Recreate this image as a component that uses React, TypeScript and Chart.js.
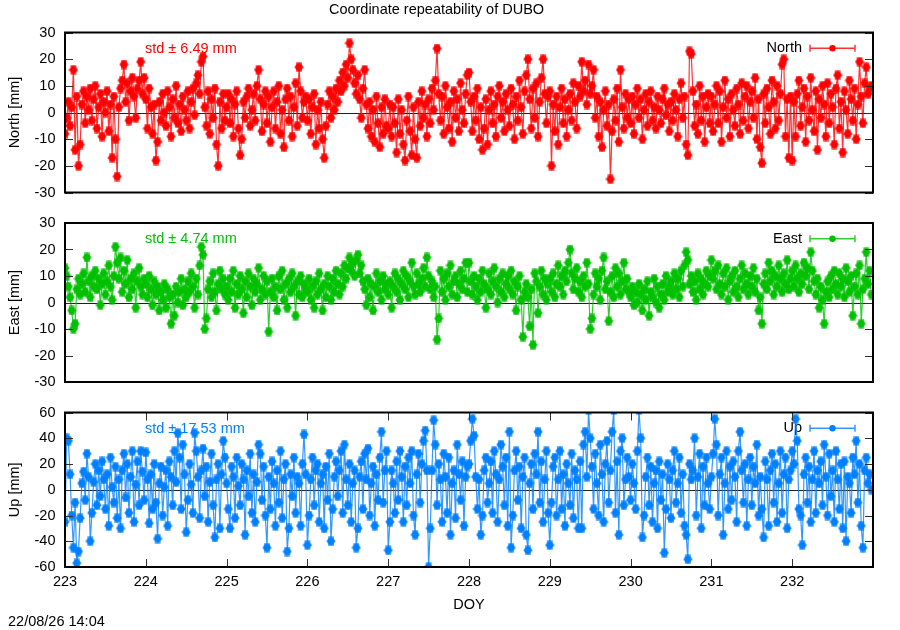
import React, { useEffect, useRef } from "react";
import { Chart, registerables } from "chart.js";

Chart.register(...registerables);

// ---------------- data ----------------
const START_DOY = 223;
const SAMPLES_PER_DAY = 48; // 30-minute solutions
const X_TICKS = [223, 224, 225, 226, 227, 228, 229, 230, 231, 232];
const NE_TICKS = [-30, -20, -10, 0, 10, 20, 30];
const UP_TICKS = [-60, -40, -20, 0, 20, 40, 60];

const TITLE = "Coordinate repeatability of DUBO";
const TIMESTAMP = "22/08/26 14:04";
const X_LABEL = "DOY";

const NORTH: number[] = [
  -8, -2, 4, -5, 2, 16, -14, 6, -20, -12, 3, 8, -4, 6, 1, 9, -3, 5, 10, -6, 2, 7, -9, 4,
  0, 8, -7, 3, -17, 6, -10, -24, 2, 9, 12, 18, 4, 11, -3, 8, 13, 6, -2, 9, 12, 19, 7, 13,
  5, -6, 9, 2, -8, 3, -18, -11, 4, -3, 7, 0, -5, 8, 2, -9, 5, -2, 10, -4, 3, -7, 6, 1,
  -3, 8, -6, 4, 9, -1, 11, 14, 7, 19, 21, 2, -5, 8, -8, 5, -2, 9, -12, -20, 4, -6, 7, -3,
  2, 7, -4, 5, -9, 3, 8, -6, -16, -10, 4, -2, 6, 9, -5, 1, 7, -3, 10, 16, 5, -7, 3, 8,
  -4, 6, -11, 2, 8, -6, 4, 10, -8, 1, -13, 5, 9, -3, 6, -9, 2, 11, -5, 17, 8, -2, 4, 6,
  -3, 5, -8, 2, 7, -12, 1, -6, 4, -10, -17, -5, 3, 8, -2, 6, 1, 9, 4, 12, 8, 15, 10, 18,
  13, 26, 20, 16, 11, 7, 14, 5, -2, 9, 16, 3, -6, 4, -9, 1, -11, 6, -4, -13, 2, -8, 5, -5,
  -6, 3, -9, 2, -4, -15, 5, -8, 1, -12, -18, -3, 6, -7, -16, 2, -10, -17, 4, -5, 8, -2, 3, -9,
  5, -4, 9, 1, 12, 24, 7, -3, 6, -8, 10, 2, -6, 4, -11, 8, -2, 5, -7, 11, 1, -4, 7, 14,
  15, 4, -7, 6, -3, 9, -10, 2, -14, -6, 5, -12, 1, 8, -4, 3, -9, 6, 10, -2, 4, -7, 7, 1,
  -5, 9, 3, -10, 6, -3, 12, 2, -8, 8, 14, 20, 5, -6, 9, -2, 11, -9, 4, 13, 20, 7, -4, 6,
  8, -20, 3, -7, 6, -12, 2, 9, -4, 5, -9, 1, 7, -3, 11, 4, -6, 10, 6, 19, 8, 12, 3, 18,
  7, 10, 16, -2, 6, -9, 4, -13, 1, 8, -5, 3, -25, -7, 5, -3, 9, -11, 16, 2, -6, 7, -2, 5,
  -4, 6, -8, 3, 9, -2, 5, -10, 1, 7, -5, 4, 8, -3, 2, -6, 6, 1, -4, 5, 9, -1, 3, -7,
  4, -3, 7, 1, -9, 5, 11, -2, 6, -12, -16, 23, 22, 8, -5, 3, -8, 10, -3, 6, -11, 2, 7, -4,
  6, -7, 3, 10, -4, 8, -11, 2, 12, -2, 5, -9, 7, 1, -5, 9, 3, -8, 11, -3, 6, 10, -6, 4,
  8, -2, 13, -10, 5, -13, -19, 7, -4, 9, 2, -8, 12, 4, -6, 10, -3, 7, 18, 20, -9, 5, -17, 6,
  -18, 4, -9, 7, 12, -5, 2, 9, -11, 6, -3, 13, 1, -7, 8, -14, 5, -2, 10, 3, -9, 11, -4, 7,
  2, -12, 9, 14, -6, 4, -15, 8, 1, -8, 12, 5, -3, 9, -10, 3, 19, 6, -4, 11, 17, 7, 9, 10,
];

const EAST: number[] = [
  13, 10, 6, 2, -3, -10, -8, 5, 9, 3, 7, 11, 4, 17, 8, 2, 10, 6, 12, 5, 9, -1, 7, 11,
  3, 8, 14, 6, 1, 10, 21, 15, 9, 17, 4, 12, 7, 16, 2, 9, 5, 11, -2, 8, 13, 6, 3, 9,
  7, 2, 10, 5, -1, 8, 3, 6, -3, 4, 1, 7, -2, 5, 2, -8, 3, -5, 6, 0, 4, 9, -1, 5,
  2, 8, 4, 11, 6, -2, 9, 3, 14, 21, 18, -10, -6, 5, 8, 2, 11, 4, -3, 7, 12, 5, 9, 3,
  6, 1, 9, 4, 12, -2, 7, 3, 10, 5, -4, 8, 2, 11, 6, -1, 9, 4, 7, 13, 1, 5, 10, 3,
  8, -11, 4, 9, 2, 6, -3, 10, 5, 12, 1, 7, -2, 9, 4, 11, 6, -5, 8, 3, 10, 2, 7, 5,
  4, 9, 1, 6, -2, 8, 3, 11, 5, -3, 7, 2, 10, 6, 1, 9, 4, 12, 7, 3, 11, 6, 14, 9,
  13, 17, 12, 15, 10, 16, 18, 11, 14, 8, 5, -1, 9, 2, 7, -3, 6, 11, 4, 8, 1, 10, 5, 7,
  3, 8, -2, 6, 11, 4, 9, 1, 7, 12, 5, 10, 2, 8, 15, 6, 3, 11, 7, 4, 9, 13, 6, 17,
  10, 5, 8, 2, 6, -14, -6, 12, 4, 9, 1, 11, 6, 14, 3, 8, 10, 2, 7, 12, 5, 9, 15, 4,
  15, 8, 3, 10, 6, 1, 9, 4, 12, 7, -2, 5, 11, 3, 8, 13, 6, 0, 9, 4, 11, 2, 7, 10,
  5, 12, 3, 8, -3, 6, 10, 1, -13, 4, 7, 2, -9, 5, -16, 11, 8, -4, 6, 12, 3, 9, 1, 7,
  9, 4, 11, 2, 7, 14, 6, 10, 3, 12, 8, 15, 20, 11, 5, 9, 13, 4, 8, 2, 10, 6, 15, 7,
  -10, -6, 3, 11, 6, 9, 1, 12, 17, 5, 8, -7, 4, 10, 2, 13, 6, 11, 3, 8, 15, 5, 9, 4,
  2, 6, -1, 4, 0, 7, 3, -3, 5, 1, 8, -5, 4, 2, 9, 0, 6, -2, 3, 7, 1, 10, 4, 6,
  8, 3, 11, 5, 9, 2, 12, 6, 14, 19, 16, 7, 10, 4, 8, 1, 11, 5, 9, 3, 7, 12, 6, 10,
  16, 9, 12, 5, 14, 7, 3, 11, 6, 13, 1, 8, 10, 4, 12, 6, 2, 9, 14, 5, 11, 7, 3, 10,
  6, 13, 4, 9, -3, 2, -8, 7, 11, 5, 15, 8, 12, 3, 10, 6, 14, 9, 4, 11, 7, 16, 5, 9,
  12, 6, 14, 9, 4, 11, 7, 15, 10, 13, 5, 19, 12, 8, 3, 9, -2, 6, 1, -8, 4, 8, 2, 10,
  5, 12, 7, 3, 11, 6, 9, 2, 13, 8, 4, 10, -5, 6, 11, 3, 14, -8, 5, 9, 19, 7, 12, 3,
];

const UP: number[] = [
  -25, 40, 38, 12, -20, -45, -10, -57, -48, -22, 5, 14, -8, 28, 10, -40, -18, 6, 20, -12, 15, -5, 22, 8,
  -15, 12, -28, 25, 2, -10, 18, -22, 8, -30, 15, 28, -6, 20, -18, 10, 30, -25, 4, 22, -12, 30, 14, -8,
  29, 8, -26, 12, -15, 20, -10, -38, 5, 18, -20, 2, 15, -28, 22, 10, -12, 30, 6, 44, 25, -15, 35, 12,
  -33, -8, 20, 4, -18, 44, 30, 10, -22, 15, 32, -5, 18, -25, 6, 28, -12, -37, 8, 20, -30, 12, 38, 25,
  5, -15, -30, 18, 10, -22, 25, 3, -12, 20, 8, -35, 15, -5, 28, -18, 12, -25, 6, 35, 28, -8, 18, -20,
  -45, 10, -15, 22, 5, -28, 15, -10, 30, -22, 8, 20, -48, -30, 12, -5, 25, -18, 10, 5, -28, 20, 43, 12,
  -43, -20, 8, 25, -12, 15, 20, -25, 5, 12, -30, 18, -8, 28, -40, -15, 10, 22, -5, 15, 30, -18, 35, 8,
  -12, 20, -25, 5, 15, -45, -30, 10, 22, -15, 28, 8, 32, -20, 5, 18, -28, 12, -8, 25, 45, -10, 15, 30,
  -47, -25, 15, 5, -18, 22, -8, 30, 10, -25, 18, -12, 25, 5, 30, -20, -35, 12, 28, -10, 20, 38, 46, 15,
  -60, -30, 15, 54, 35, -12, 20, 8, -25, 28, 10, -18, 25, -35, 5, 15, -22, 35, 12, -8, 22, -28, 10, 18,
  20, 38, 55, 42, 10, -15, 8, -35, -20, 15, 25, -10, 5, 22, -18, 30, 12, -25, 8, 35, 18, -12, 25, -28,
  45, -45, -20, 15, 30, -8, 18, -30, 10, 25, -35, -47, 5, 20, -15, 28, 12, 45, -10, 22, -25, 8, 30, -18,
  -43, -10, 18, 25, -20, 8, 30, -15, 12, -28, 20, 5, -12, 28, -22, 15, 8, -30, 22, -30, 35, 45, 10, 62,
  40, 18, -15, 28, 5, -20, 35, 12, -25, 20, 38, -10, 15, 45, 62, -18, 22, -35, 30, 40, -12, 8, 25, 10,
  -8, 20, 5, -15, 30, 62, 40, -37, -20, 10, 25, -12, 18, -25, 5, 15, -30, 22, -8, 12, -49, -15, 20, 8,
  -22, 15, 30, -10, 5, 25, -18, 12, -28, -35, -54, 20, 8, 15, 40, -20, 10, 28, -30, 18, -12, 25, 5, -15,
  10, 28, 55, 35, -20, 12, 25, -35, 5, 30, -15, 18, -8, 22, 10, -25, 30, 45, 15, -10, 20, -28, 8, 25,
  -12, 18, 5, 35, -20, 10, -15, -37, 22, 8, -28, 15, 28, -10, 20, -25, 5, 30, -18, 12, 25, -30, 8, 15,
  30, 20, 55, 38, -15, -20, -43, 12, 25, -10, 18, -25, 8, 30, -18, 15, 5, 22, -12, 35, 10, -20, 28, -5,
  15, -25, 30, 8, -15, 20, -30, 22, -40, 10, 5, -18, 25, 12, 38, -10, 20, -28, -45, 15, 25, 5, 12, 0,
];

const SERIES_NAMES = ["North", "East", "Up"];
const Y_LABELS = ["North [mm]", "East [mm]", "Up [mm]"];
const STD_VALUES = ["6.49", "4.74", "17.53"];

// ---------------- styling ----------------
const FONT_FAMILY = "'Liberation Sans', Arial, Helvetica, sans-serif";
const FONT_SIZE = 14.5;

type PanelCfg = {
  name: string;
  yLabel: string;
  std: string;
  values: number[];
  ticks: number[];
  color: string;
  lineColor: string;
  top: number;
  height: number;
  padTop: number;
  padBottom: number;
  showTitle: boolean;
  showX: boolean;
};

const PANELS: PanelCfg[] = [
  {
    name: SERIES_NAMES[0], yLabel: Y_LABELS[0], std: STD_VALUES[0], values: NORTH, ticks: NE_TICKS,
    color: "#ff0000", lineColor: "rgba(255,0,0,0.8)",
    top: 0, height: 200, padTop: 0, padBottom: 7.5, showTitle: true, showX: false,
  },
  {
    name: SERIES_NAMES[1], yLabel: Y_LABELS[1], std: STD_VALUES[1], values: EAST, ticks: NE_TICKS,
    color: "#00c000", lineColor: "rgba(0,192,0,0.8)",
    top: 200, height: 200, padTop: 23, padBottom: 18, showTitle: false, showX: false,
  },
  {
    name: SERIES_NAMES[2], yLabel: Y_LABELS[2], std: STD_VALUES[2], values: UP, ticks: UP_TICKS,
    color: "#0080ff", lineColor: "rgba(0,128,255,0.8)",
    top: 400, height: 230, padTop: 12.5, padBottom: 16.3, showTitle: false, showX: true,
  },
];

function makeMarker(color: string): HTMLCanvasElement {
  const c = document.createElement("canvas");
  c.width = 10;
  c.height = 10;
  const g = c.getContext("2d")!;
  g.fillStyle = color;
  g.beginPath();
  g.arc(5, 5, 3.7, 0, Math.PI * 2);
  g.fill();
  g.fillRect(2, 0.5, 6, 1.2);
  g.fillRect(2, 8.3, 6, 1.2);
  g.fillRect(4.4, 0.5, 1.2, 9);
  g.fillRect(0.5, 4.4, 9, 1.2);
  return c;
}

function font(size = FONT_SIZE) {
  return `${size}px ${FONT_FAMILY}`;
}

function Panel({ cfg }: { cfg: PanelCfg }) {
  const ref = useRef<HTMLCanvasElement | null>(null);

  useEffect(() => {
    if (!ref.current) return;
    const points = cfg.values.map((v, i) => ({ x: START_DOY + i / SAMPLES_PER_DAY, y: v }));
    const marker = makeMarker(cfg.color);

    const decorBelow = {
      id: "decorBelow",
      beforeDatasetsDraw(chart: any) {
        const { ctx, chartArea, scales } = chart;
        const { left, right, top } = chartArea;
        ctx.save();
        const y0 = scales.y.getPixelForValue(0);
        ctx.strokeStyle = "#202020";
        ctx.lineWidth = 1;
        ctx.beginPath();
        ctx.moveTo(left, Math.round(y0) + 0.5);
        ctx.lineTo(right, Math.round(y0) + 0.5);
        ctx.stroke();
        ctx.font = font();
        ctx.fillStyle = cfg.color;
        ctx.textBaseline = "middle";
        ctx.textAlign = "left";
        ctx.fillText(`std \u00b1 ${cfg.std} mm`, left + 80, top + 16.3);
        const ly = top + 15.8;
        ctx.fillStyle = "#000";
        ctx.textAlign = "right";
        ctx.fillText(cfg.name, right - 71, ly);
        const x1 = right - 63;
        const x2 = right - 18;
        ctx.strokeStyle = cfg.lineColor;
        ctx.lineWidth = 1.5;
        ctx.beginPath();
        ctx.moveTo(x1, ly);
        ctx.lineTo(x2, ly);
        ctx.moveTo(x1, ly - 3.5);
        ctx.lineTo(x1, ly + 3.5);
        ctx.moveTo(x2, ly - 3.5);
        ctx.lineTo(x2, ly + 3.5);
        ctx.stroke();
        ctx.fillStyle = cfg.color;
        ctx.beginPath();
        ctx.arc((x1 + x2) / 2, ly, 3.2, 0, Math.PI * 2);
        ctx.fill();
        ctx.restore();
      },
    };

    const frame = {
      id: "frame",
      afterDatasetsDraw(chart: any) {
        const { ctx, chartArea, scales } = chart;
        const { left, right, top, bottom } = chartArea;
        ctx.save();
        ctx.strokeStyle = "#303030";
        ctx.lineWidth = 1;
        ctx.beginPath();
        for (const t of cfg.ticks) {
          const y = Math.round(scales.y.getPixelForValue(t)) + 0.5;
          ctx.moveTo(left, y);
          ctx.lineTo(left + 8, y);
          ctx.moveTo(right, y);
          ctx.lineTo(right - 8, y);
        }
        if (cfg.showX) {
          for (const t of X_TICKS) {
            const x = Math.round(scales.x.getPixelForValue(t)) + 0.5;
            ctx.moveTo(x, bottom);
            ctx.lineTo(x, bottom - 8);
            ctx.moveTo(x, top);
            ctx.lineTo(x, top + 8);
          }
        }
        ctx.stroke();
        ctx.strokeStyle = "#000";
        ctx.lineWidth = 2;
        ctx.strokeRect(left, top, right - left, bottom - top);
        if (cfg.showX) {
          ctx.font = font();
          ctx.fillStyle = "#000";
          ctx.textAlign = "left";
          ctx.textBaseline = "middle";
          ctx.fillText(TIMESTAMP, 8, chart.height - 8.5);
        }
        ctx.restore();
      },
    };

    const chart = new Chart(ref.current, {
      type: "line",
      data: {
        datasets: [
          {
            label: cfg.name,
            data: points,
            borderColor: cfg.lineColor,
            borderWidth: 1.2,
            pointStyle: marker as any,
            pointRadius: 4,
            pointHoverRadius: 4,
            backgroundColor: cfg.color,
            tension: 0,
          },
        ],
      },
      options: {
        animation: false,
        responsive: false,
        maintainAspectRatio: false,
        events: [],
        layout: { padding: { left: 0, right: 27, top: cfg.padTop, bottom: cfg.padBottom } },
        plugins: {
          legend: { display: false },
          tooltip: { enabled: false },
          title: {
            display: cfg.showTitle,
            text: TITLE,
            color: "#000",
            font: { family: FONT_FAMILY, size: FONT_SIZE, weight: "normal" as any },
            padding: { top: 1.3, bottom: 13.8 },
          },
        },
        scales: {
          x: {
            type: "linear",
            min: 223,
            max: 233,
            display: cfg.showX,
            afterBuildTicks: (s: any) => {
              s.ticks = X_TICKS.map((v) => ({ value: v }));
            },
            afterFit: (s: any) => {
              if (cfg.showX) s.height = 46.7;
              s.paddingLeft = 0;
              s.paddingRight = 0;
            },
            grid: { display: false, drawTicks: false },
            border: { display: false },
            ticks: {
              padding: 6,
              color: "#000",
              autoSkip: false,
              maxRotation: 0,
              font: { family: FONT_FAMILY, size: FONT_SIZE },
              callback: (v: any) => String(v),
            },
            title: {
              display: true,
              text: X_LABEL,
              color: "#000",
              font: { family: FONT_FAMILY, size: FONT_SIZE },
              padding: { top: 0, bottom: 0 },
            },
          },
          y: {
            type: "linear",
            min: cfg.ticks[0],
            max: cfg.ticks[cfg.ticks.length - 1],
            afterBuildTicks: (s: any) => {
              s.ticks = cfg.ticks.map((v) => ({ value: v }));
            },
            afterFit: (s: any) => {
              s.width = 65;
              s.paddingTop = 0;
              s.paddingBottom = 0;
            },
            grid: { display: false, drawTicks: false },
            border: { display: false },
            ticks: {
              padding: 9.5,
              color: "#000",
              autoSkip: false,
              font: { family: FONT_FAMILY, size: FONT_SIZE },
              callback: (v: any) => String(v),
            },
            title: {
              display: true,
              text: cfg.yLabel,
              color: "#000",
              font: { family: FONT_FAMILY, size: FONT_SIZE },
              padding: { top: 6.3, bottom: 0 },
            },
          },
        },
      },
      plugins: [decorBelow, frame],
    });
    return () => chart.destroy();
  }, [cfg]);

  return (
    <canvas
      ref={ref}
      width={900}
      height={cfg.height}
      style={{ position: "absolute", left: 0, top: cfg.top, width: 900, height: cfg.height }}
    />
  );
}

export default function App() {
  return (
    <div style={{ position: "absolute", left: 0, top: 0, width: 900, height: 630, background: "#fff", overflow: "hidden" }}>
      {PANELS.map((p) => (
        <Panel key={p.name} cfg={p} />
      ))}
    </div>
  );
}
